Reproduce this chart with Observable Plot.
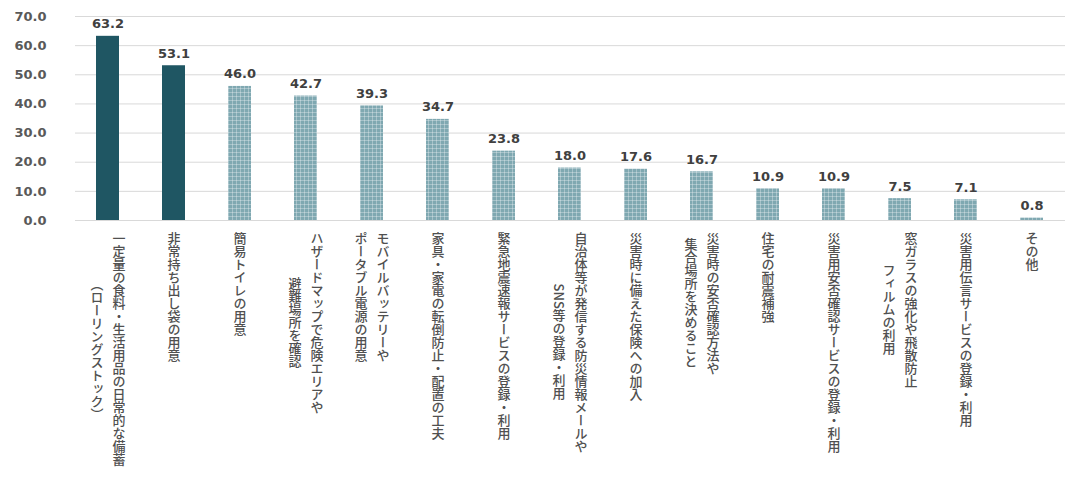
<!DOCTYPE html>
<html><head><meta charset="utf-8">
<script src="https://cdn.jsdelivr.net/npm/d3@7"></script>
<script src="https://cdn.jsdelivr.net/npm/@observablehq/plot@0.6"></script>
<style>
body{margin:0;background:#fff;}
.xl1 text,.xl2 text,.xl0 text{writing-mode:vertical-rl;}
</style></head><body><div id="chart"></div>
<script>
const line1 = ["一定量の食料・生活用品の日常的な備蓄","非常持ち出し袋の用意","簡易トイレの用意","ハザードマップで危険エリアや","モバイルバッテリーや","家具・家電の転倒防止・配置の工夫","緊急地震速報サービスの登録・利用","自治体等が発信する防災情報メールや","災害時に備えた保険への加入","災害時の安否確認方法や","住宅の耐震補強","災害用安否確認サービスの登録・利用","窓ガラスの強化や飛散防止","災害用伝言サービスの登録・利用","その他"];
const line2 = ["（ローリングストック）","","","避難場所を確認","ポータブル電源の用意","","","SNS等の登録・利用","","集合場所を決めること","","","フィルムの利用","",""];
const values = [63.2,53.1,46.0,42.7,39.3,34.7,23.8,18.0,17.6,16.7,10.9,10.9,7.5,7.1,0.8];
const solid = [true,true,false,false,false,false,false,false,false,false,false,false,false,false,false];
const yTicks = [0,10,20,30,40,50,60,70];

const rows = line1.map((l, i) => ({key: l + line2[i], l1: l, l2: line2[i], value: values[i], solid: solid[i]}));
const single = rows.filter(d => !d.l2);
const double = rows.filter(d => d.l2);
const labFont = {fontFamily: "'Noto Sans CJK JP', sans-serif", fontWeight: 500, fontSize: 13, fill: "#505050", textAnchor: "start", lineAnchor: "bottom", frameAnchor: "bottom"};

const chart = Plot.plot({
  width: 1071, height: 478,
  marginTop: 16, marginBottom: 258, marginLeft: 75, marginRight: 6,
  style: {fontFamily: "'DejaVu Sans', 'Noto Sans CJK JP', sans-serif", background: "#fff"},
  x: {domain: rows.map(d => d.key), paddingInner: 0.65, paddingOuter: 0.325, axis: null},
  y: {domain: [0, 70], axis: null},
  marks: [
    Plot.gridY(yTicks, {stroke: "#d9d9d9", strokeOpacity: 1, strokeWidth: 1}),
    Plot.axisY(yTicks, {tickSize: 0, tickPadding: 29, label: null, tickFormat: d => d.toFixed(1), fontWeight: "bold", fontSize: 13, fill: "#595959"}),
    Plot.barY(rows.filter(d => d.solid), {x: "key", y: "value", fill: "#1f5663"}),
    Plot.barY(rows.filter(d => !d.solid), {x: "key", y: "value", fill: "url(#dots)"}),
    Plot.text(rows, {x: "key", y: "value", text: d => d.value.toFixed(1), lineAnchor: "bottom", dy: -8, fontWeight: "bold", fontSize: 13, fill: "#404040"}),
    Plot.text(single, {x: "key", text: "l1", dy: 11, className: "xl0", ...labFont}),
    Plot.text(double, {x: "key", text: "l1", dy: 11, dx: 11, className: "xl1", ...labFont}),
    Plot.text(double, {x: "key", text: "l2", dy: 11, dx: -11, className: "xl2", ...labFont})
  ]
});

const svg = d3.select(chart);
const defs = svg.insert("defs", ":first-child");
const pat = defs.append("pattern").attr("id", "dots").attr("width", 4).attr("height", 4).attr("patternUnits", "userSpaceOnUse");
pat.append("rect").attr("width", 4).attr("height", 4).attr("fill", "#7fa8b1");
pat.append("rect").attr("width", 4).attr("height", 1).attr("fill", "#fff").attr("opacity", 0.3);
pat.append("rect").attr("width", 1).attr("height", 4).attr("fill", "#fff").attr("opacity", 0.3);

document.getElementById("chart").appendChild(chart);

const t1 = chart.querySelectorAll(".xl1 text");
const t2 = chart.querySelectorAll(".xl2 text");
t2.forEach((el, i) => {
  const h1 = t1[i].getBBox().height;
  const h2 = el.getBBox().height;
  const off = Math.max(0, (h1 - h2) / 2);
  const tr = el.getAttribute("transform") || "";
  el.setAttribute("transform", tr + ` translate(0,${off})`);
});
</script></body></html>
